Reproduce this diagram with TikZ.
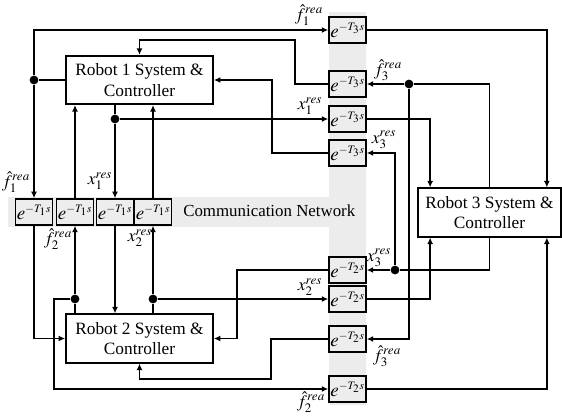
\documentclass[tikz,border=0pt]{standalone}
\usepackage{mathptmx}
\usepackage{fontspec}
\setmainfont{Liberation Serif}
\usetikzlibrary{arrows.meta,calc,positioning}

\begin{document}
\begin{tikzpicture}[
    x=0.025cm, y=-0.025cm,
    >={Latex[length=4.6pt,width=4.2pt]},
    sysbox/.style={draw, fill=white, line width=1.2pt, align=center,
                   minimum height=1.21cm, inner sep=1pt,
                   font=\fontsize{12.3}{14.5}\selectfont},
    delaybox/.style={draw, fill=gray!14, line width=1.1pt,
                     minimum width=0.92cm, minimum height=0.65cm,
                     inner sep=0pt, font=\fontsize{13.5}{13.5}\selectfont},
    sig/.style={line width=1.3pt},
    sigarrow/.style={->, line width=1.3pt},
    jdot/.style={circle, fill, inner sep=0pt, minimum size=0.22cm},
    siglabel/.style={inner sep=0pt, font=\fontsize{12.5}{12.5}\selectfont}
]
\useasboundingbox (0,0) rectangle (562,418);

% network band
\fill[gray!15] (329,12) rectangle (366,405);
\fill[gray!15] (8,197) rectangle (366,227);
\node[anchor=west, inner sep=0pt, font=\fontsize{12}{12}\selectfont]
  (net) at (183,211) {Communication Network};

\node[sysbox, minimum width=3.675cm] (R1) at (139.5, 80)  {Robot 1 System \&\\Controller};
\node[sysbox, minimum width=3.675cm] (R2) at (139.5,338.5) {Robot 2 System \&\\Controller};
\node[sysbox, minimum width=3.575cm] (R3) at (489.5,212.5) {Robot 3 System \&\\Controller};

\node[delaybox] (d11) at ( 34,212) {$e^{\scriptscriptstyle -T_1 s}$};
\node[delaybox] (d12) at ( 75,212) {$e^{\scriptscriptstyle -T_1 s}$};
\node[delaybox] (d13) at (115,212) {$e^{\scriptscriptstyle -T_1 s}$};
\node[delaybox] (d14) at (153,212) {$e^{\scriptscriptstyle -T_1 s}$};
\node[delaybox] (d31) at (347.5, 30) {$e^{\scriptscriptstyle -T_3 s}$};
\node[delaybox] (d32) at (347.5, 84) {$e^{\scriptscriptstyle -T_3 s}$};
\node[delaybox] (d33) at (347.5,119) {$e^{\scriptscriptstyle -T_3 s}$};
\node[delaybox] (d34) at (347.5,153) {$e^{\scriptscriptstyle -T_3 s}$};
\node[delaybox] (d21) at (347.5,270) {$e^{\scriptscriptstyle -T_2 s}$};
\node[delaybox] (d22) at (347.5,299) {$e^{\scriptscriptstyle -T_2 s}$};
\node[delaybox] (d23) at (347.5,339) {$e^{\scriptscriptstyle -T_2 s}$};
\node[delaybox] (d24) at (347.5,389) {$e^{\scriptscriptstyle -T_2 s}$};

\node[jdot] (j1) at ( 34, 80) {};
\node[jdot] (j2) at (115,119) {};
\node[jdot] (j3) at (409, 84) {};
\node[jdot] (j4) at (395,270) {};
\node[jdot] (j5) at ( 75,299) {};
\node[jdot] (j6) at (153,299) {};

% robot 1 outputs
\draw[sig] (R1.west) -- (j1);
\draw[sigarrow] (j1) |- (d31.west);
\draw[sigarrow] (j1) -- (d11.north);
\draw[sig] (j2 |- R1.south) -- (j2);
\draw[sigarrow] (j2) -- (d33.west);
\draw[sigarrow] (j2) -- (d13.north);

% robot 2 outputs
\draw[sig] (j5 |- R2.north) -- (j5);
\draw[sigarrow] (j5) -- (d12.south);
\draw[sigarrow] (j5) -- ++(-21,0) |- (d24.west);
\draw[sig] (j6 |- R2.north) -- (j6);
\draw[sigarrow] (j6) -- (d14.south);
\draw[sigarrow] (j6) -- (d22.west);

% robot 3 outputs
\draw[sig] (R3.north) |- (j3);
\draw[sigarrow] (j3) -- (d32.east);
\draw[sigarrow] (j3) |- (d23.east);
\draw[sig] (R3.south) |- (j4);
\draw[sigarrow] (j4) -- (d21.east);
\draw[sigarrow] (j4) |- (d34.east);

% delayed signals into robot 1
\draw[sigarrow] (d12.north) -- (d12.north |- R1.south);
\draw[sigarrow] (d14.north) -- (d14.north |- R1.south);
\draw[sigarrow] (d32.west) -- ++(-33,0) -- ++(0,-44) -| (R1.north);
\draw[sigarrow] (d34.west) -- ++(-56,0) |- (R1.east);

% delayed signals into robot 2
\draw[sigarrow] (d11.south) |- (R2.west);
\draw[sigarrow] (d13.south) -- (d13.south |- R2.north);
\draw[sigarrow] (d21.west) -- ++(-91,0) |- (R2.east);
\draw[sigarrow] (d23.west) -- ++(-57,0) -- ++(0,40) -| (R2.south);

% delayed signals into robot 3
\draw[sigarrow] (d31.east) -| ($(R3.north east)+(-15,0)$);
\draw[sigarrow] (d33.east) -| ($(R3.north west)+(13,0)$);
\draw[sigarrow] (d22.east) -| ($(R3.south west)+(13,0)$);
\draw[sigarrow] (d24.east) -| ($(R3.south east)+(-15,0)$);

% signal names
\node[siglabel] (l1) at (309, 15) {$\hat{f}_1^{rea}$};
\node[siglabel] (l2) at (388, 70) {$\hat{f}_3^{rea}$};
\node[siglabel] (l3) at (310,106) {$x_1^{res}$};
\node[siglabel] (l4) at (384,140) {$x_3^{res}$};
\node[siglabel] (l5) at ( 16,182) {$\hat{f}_1^{rea}$};
\node[siglabel] (l6) at (100,181) {$x_1^{res}$};
\node[siglabel] (l7) at ( 58,239) {$\hat{f}_2^{rea}$};
\node[siglabel] (l8) at (140,238) {$x_2^{res}$};
\node[siglabel] (l9) at (379,258) {$x_3^{res}$};
\node[siglabel] (l10) at (310,287) {$x_2^{res}$};
\node[siglabel] (l11) at (387,356) {$\hat{f}_3^{rea}$};
\node[siglabel] (l12) at (311,402) {$\hat{f}_2^{rea}$};

\end{tikzpicture}
\end{document}
